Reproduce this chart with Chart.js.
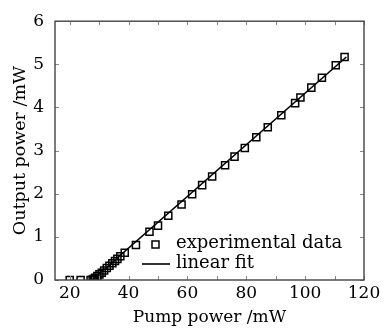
<!DOCTYPE html>
<html>
<head>
<meta charset="utf-8">
<script src="https://cdn.jsdelivr.net/npm/chart.js@4"></script>
<style>
  html, body { margin: 0; padding: 0; background: #fff; }
  #chart { display: block; }
</style>
</head>
<body>
<canvas id="chart" width="386" height="328"></canvas>
<script>
// measured points (pump power mW -> output power mW)
const expX = [20.0, 23.7, 27.1, 27.8, 28.3, 28.7, 29.4, 30.1, 30.9, 31.7, 32.6, 33.5, 34.5, 35.4, 36.2, 37.2, 38.7,
              42.5, 47.1, 50.0, 53.5, 58.0, 61.6, 65.0, 68.4, 72.8, 76.0, 79.5, 83.4, 87.3, 91.9, 96.6, 98.4,
              102.1, 105.7, 110.4, 113.4];
const expY = [0, 0, 0, 0.01, 0.03, 0.05, 0.09, 0.13, 0.17, 0.22, 0.28, 0.33, 0.39, 0.44, 0.49, 0.55, 0.63,
              0.81, 1.12, 1.26, 1.49, 1.75, 1.99, 2.20, 2.40, 2.66, 2.86, 3.06, 3.31, 3.54, 3.82, 4.10, 4.23,
              4.46, 4.69, 4.98, 5.17];

// linear fit end points
const fitX = [27.6, 114.0];
const fitY = [0, 5.17];

const xTicks = [20, 30, 40, 50, 60, 70, 80, 90, 100, 110, 120];
const xLabels = [20, 40, 60, 80, 100, 120];
const yTicks = [0, 1, 2, 3, 4, 5, 6];

const serif = '"DejaVu Serif", serif';

// pgfplots style: box frame with inward ticks, legend inside
const framePlugin = {
    id: 'frame',
    afterDraw(chart) {
        const { ctx, chartArea: a, scales } = chart;
        ctx.save();
        ctx.strokeStyle = '#888';
        ctx.lineWidth = 1;
        ctx.beginPath();
        xTicks.forEach(v => {
            const px = Math.round(scales.x.getPixelForValue(v)) + 0.5;
            ctx.moveTo(px, a.bottom); ctx.lineTo(px, a.bottom - 4);
            ctx.moveTo(px, a.top); ctx.lineTo(px, a.top + 4);
        });
        yTicks.forEach(v => {
            const py = Math.round(scales.y.getPixelForValue(v)) + 0.5;
            ctx.moveTo(a.left, py); ctx.lineTo(a.left + 4, py);
            ctx.moveTo(a.right, py); ctx.lineTo(a.right - 4, py);
        });
        ctx.stroke();

        ctx.strokeStyle = '#444';
        ctx.lineWidth = 1.4;
        ctx.strokeRect(a.left, a.top, a.right - a.left, a.bottom - a.top);

        // legend
        ctx.fillStyle = '#000';
        ctx.font = '18px ' + serif;
        ctx.textBaseline = 'middle';
        ctx.strokeStyle = '#000';
        ctx.lineWidth = 1.5;
        ctx.strokeRect(152, 241, 7, 7);
        ctx.fillText('experimental data', 176, 243);
        ctx.lineWidth = 1.6;
        ctx.beginPath();
        ctx.moveTo(142, 264); ctx.lineTo(170, 264);
        ctx.stroke();
        ctx.fillText('linear fit', 176, 263);
        ctx.restore();
    }
};

new Chart(document.getElementById('chart'), {
    type: 'scatter',
    data: {
        datasets: [
            {
                label: 'linear fit',
                data: fitX.map((x, i) => ({ x, y: fitY[i] })),
                showLine: true,
                borderColor: '#000',
                borderWidth: 1.6,
                pointRadius: 0,
                order: 2
            },
            {
                label: 'experimental data',
                data: expX.map((x, i) => ({ x, y: expY[i] })),
                pointStyle: 'rect',
                pointRadius: 5,
                pointBorderWidth: 1.5,
                pointBorderColor: '#000',
                pointBackgroundColor: 'rgba(0,0,0,0)',
                order: 1
            }
        ]
    },
    options: {
        responsive: false,
        animation: false,
        layout: { padding: { top: 14, right: 22, left: 0, bottom: 0 } },
        plugins: { legend: { display: false }, tooltip: { enabled: false } },
        scales: {
            x: {
                type: 'linear',
                min: 15,
                max: 120,
                afterBuildTicks: s => { s.ticks = xTicks.map(v => ({ value: v })); },
                afterFit: s => { s.height = 48; },
                grid: { display: false, drawTicks: false },
                border: { display: false },
                ticks: {
                    padding: 3,
                    color: '#000',
                    font: { family: serif, size: 17 },
                    maxRotation: 0,
                    autoSkip: false,
                    callback: v => xLabels.includes(v) ? String(v) : ''
                },
                title: {
                    display: true,
                    text: 'Pump power /mW',
                    color: '#000',
                    font: { family: serif, size: 17 },
                    padding: { top: 0, bottom: 0 }
                }
            },
            y: {
                min: 0,
                max: 6,
                afterBuildTicks: s => { s.ticks = yTicks.map(v => ({ value: v })); },
                afterFit: s => { s.width = 55; },
                grid: { display: false, drawTicks: false },
                border: { display: false },
                ticks: {
                    padding: 11,
                    color: '#000',
                    font: { family: serif, size: 17 }
                },
                title: {
                    display: true,
                    text: 'Output power /mW',
                    color: '#000',
                    font: { family: serif, size: 17.5 },
                    padding: { top: 10, bottom: 0 }
                }
            }
        }
    },
    plugins: [framePlugin]
});
</script>
</body>
</html>
